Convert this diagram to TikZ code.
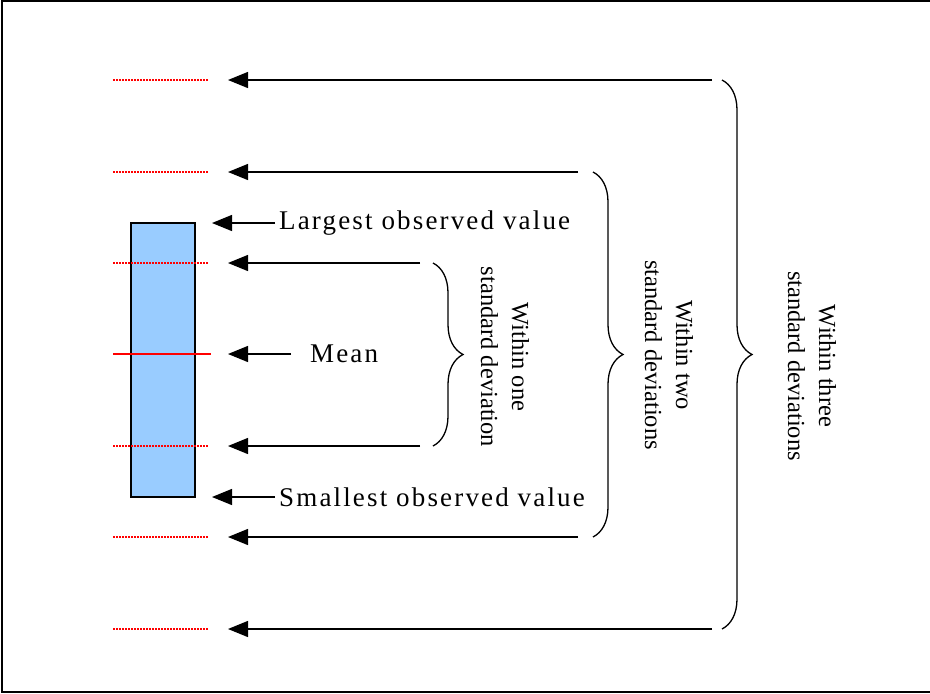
\documentclass[tikz,border=0pt]{standalone}
\usepackage{fontspec}
\setmainfont{Liberation Serif}
\newfontfamily\spacedfont[LetterSpace=8]{Liberation Serif}
\usetikzlibrary{arrows.meta,decorations.pathreplacing,positioning}
\definecolor{barblue}{HTML}{99CCFF}

\begin{document}
\begin{tikzpicture}[x=1pt,y=-1pt,
    pointer/.style={-{Triangle[length=20pt,width=16pt]},line width=1.3pt},
    sdmark/.style={red,line width=1.3pt,dash pattern=on 1.5pt off 1.5pt},
    curly/.style={decorate,decoration={brace,amplitude=30pt},line width=1.3pt},
    hlabel/.style={font=\fontsize{27}{30}\spacedfont,inner sep=0pt,anchor=west},
    vlabel/.style={font=\fontsize{24.5}{31}\selectfont,align=center,rotate=-90,inner sep=0pt}]
    \useasboundingbox (0,0) rectangle (930,694);
    % Frame round the picture
    \draw[line width=1.5pt] (2,1) rectangle (936,692);
    % Draw the bar of observed values
    \draw[fill=barblue,line width=1.3pt] (131,223) rectangle (195,497);
    % Dotted red marks at one, two and three deviations
    \foreach \y in {80,172,263,446,537,629}
        \draw[sdmark] (113,\y) -- (208,\y);
    % Red mark for the mean
    \draw[red,line width=1.2pt] (113,354) -- (211,354);

    % Arrow tips next to the bar
    \coordinate (threeup) at (228,80);
    \coordinate (twoup) at (228,172);
    \coordinate (oneup) at (228,263);
    \coordinate (mid) at (228,354);
    \coordinate (onedown) at (228,446);
    \coordinate (twodown) at (228,537);
    \coordinate (threedown) at (228,629);
    \coordinate (maxtip) at (212,223);
    \coordinate (mintip) at (212,497);
    % Arrow tails
    \coordinate (threeupend) at (712,80);
    \coordinate (twoupend) at (578,172);
    \coordinate (oneupend) at (420,263);
    \coordinate (onedownend) at (420,446);
    \coordinate (twodownend) at (578,537);
    \coordinate (threedownend) at (712,629);

    % Labels for the bar
    \node[hlabel] (largest) at (279,223) {Largest observed value};
    \node[hlabel] (smallest) at (279,497) {Smallest observed value};
    \node[hlabel] (mean) at (310,354) {Mean};

    % Arrows
    \draw[pointer] ([xshift=-4pt]largest.west) -- (maxtip);
    \draw[pointer] ([xshift=-4pt]smallest.west) -- (mintip);
    \draw[pointer] ([xshift=-19pt]mean.west) -- (mid);
    \draw[pointer] (oneupend) -- (oneup);
    \draw[pointer] (onedownend) -- (onedown);
    \draw[pointer] (twoupend) -- (twoup);
    \draw[pointer] (twodownend) -- (twodown);
    \draw[pointer] (threeupend) -- (threeup);
    \draw[pointer] (threedownend) -- (threedown);

    % Braces
    \draw[curly] ([xshift=13pt]oneupend) -- ([xshift=13pt]onedownend);
    \draw[curly] ([xshift=15pt]twoupend) -- ([xshift=15pt]twodownend);
    \draw[curly] ([xshift=10pt]threeupend) -- ([xshift=10pt]threedownend);

    % Brace labels
    \node[vlabel] (onesd) at (505,357) {Within one\\standard deviation};
    \node[vlabel] (twosd) at (669,355) {Within two\\standard deviations};
    \node[vlabel] (threesd) at (812,366) {Within three\\standard deviations};
\end{tikzpicture}
\end{document}
